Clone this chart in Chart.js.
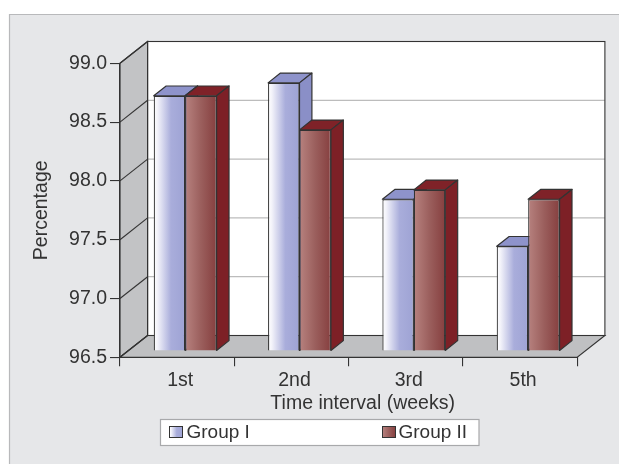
<!DOCTYPE html>
<html>
<head>
<meta charset="utf-8">
<script src="https://cdn.jsdelivr.net/npm/chart.js@4.4.0/dist/chart.umd.min.js"></script>
<style>
  html, body { margin: 0; padding: 0; background: #fff; }
  #wrap { width: 619px; height: 464px; }
</style>
</head>
<body>
<div id="wrap"><canvas id="chart"></canvas></div>
<script>
const weeks = ['1st', '2nd', '3rd', '5th'];
const groupI = [98.67, 98.78, 97.79, 97.39];
const groupII = [98.67, 98.38, 97.87, 97.79];
const seriesNames = ['Group I', 'Group II'];
const yMin = 96.5;
const yMax = 99.0;
const yStep = 0.5;

const FONT = "'Liberation Sans', Arial, sans-serif";
const INK = '#333333';
// Receding direction of the 3D box. Walls use the full depth; bars sit a
// little way into the box and take up under half of it.
const WALL = { dx: 27.6, dy: -21.8 };
const BAR_IN = 0.29;
const BAR_DEPTH = 0.45;
const CAT_PCT = 0.55;

const looks = [
    { stops: [[0, '#ffffff'], [0.12, '#f3f3fa'], [0.55, '#a9addb'], [1, '#9ea3d4']], top: '#8e93cb', side: '#8a8fc7' },
    { stops: [[0, '#b7827f'], [0.5, '#9b5f5d'], [1, '#863f3f']], top: '#7f2228', side: '#7d2026' },
];

// Horizontal shading across each bar's front face, built from the x scale.
function frontFill(c) {
    const look = looks[c.datasetIndex];
    const chart = c.chart;
    const x = chart.scales && chart.scales.x;
    if (!x || !chart.chartArea || c.dataIndex == null) return look.stops[2][1];
    const barW = (x.width / weeks.length) * CAT_PCT / 2;
    const mid = x.getPixelForValue(c.dataIndex);
    const left = c.datasetIndex === 0 ? mid - barW : mid;
    const g = chart.ctx.createLinearGradient(left, 0, left + barW, 0);
    look.stops.forEach(([p, col]) => g.addColorStop(p, col));
    return g;
}

function poly(ctx, pts, fill, stroke) {
    ctx.beginPath();
    pts.forEach(([px, py], i) => (i ? ctx.lineTo(px, py) : ctx.moveTo(px, py)));
    ctx.closePath();
    if (fill) { ctx.fillStyle = fill; ctx.fill(); }
    if (stroke) { ctx.strokeStyle = stroke; ctx.stroke(); }
}

// top and right-hand side of one bar, pushed back along the depth direction
function barFaces(ctx, bar, look) {
    const ddx = WALL.dx * BAR_DEPTH;
    const ddy = WALL.dy * BAR_DEPTH;
    const l = bar.x - bar.width / 2;
    const r = bar.x + bar.width / 2;
    const t = bar.y;
    const b = bar.base;
    ctx.lineWidth = 1.2;
    ctx.lineJoin = 'round';
    poly(ctx, [[l, t], [l + ddx, t + ddy], [r + ddx, t + ddy], [r, t]], look.top, INK);
    poly(ctx, [[r, t], [r + ddx, t + ddy], [r + ddx, b + ddy], [r, b]], look.side, INK);
}

function swatch(ctx, x0, y0, w, h, look) {
    const g = ctx.createLinearGradient(x0, 0, x0 + w, 0);
    look.stops.forEach(([p, col]) => g.addColorStop(p, col));
    ctx.fillStyle = g;
    ctx.fillRect(x0, y0, w, h);
    ctx.strokeStyle = INK;
    ctx.lineWidth = 1;
    ctx.strokeRect(x0, y0, w, h);
}

const box3d = {
    id: 'box3d',
    beforeDraw(chart) {
        const { ctx, chartArea: a, scales: { y } } = chart;
        const { dx, dy } = WALL;
        ctx.save();
        // grey panel behind the whole figure
        ctx.fillStyle = '#e6e7e9';
        ctx.fillRect(9, 14, chart.width - 9, chart.height - 14);
        ctx.strokeStyle = '#b8b9bb';
        ctx.lineWidth = 1.2;
        ctx.beginPath();
        ctx.moveTo(9.5, chart.height);
        ctx.lineTo(9.5, 14.5);
        ctx.lineTo(chart.width, 14.5);
        ctx.stroke();

        // back wall with light gridlines
        ctx.fillStyle = '#ffffff';
        ctx.fillRect(a.left + dx, a.top + dy, a.width, a.height);
        ctx.strokeStyle = '#bcbcbc';
        ctx.lineWidth = 1.2;
        y.ticks.forEach(t => {
            const py = y.getPixelForValue(t.value) + dy;
            ctx.beginPath();
            ctx.moveTo(a.left + dx, py);
            ctx.lineTo(a.right + dx, py);
            ctx.stroke();
        });

        ctx.lineWidth = 1.1;
        // left wall and floor
        poly(ctx, [[a.left, a.top], [a.left + dx, a.top + dy], [a.left + dx, a.bottom + dy], [a.left, a.bottom]], '#c2c3c5', INK);
        poly(ctx, [[a.left, a.bottom], [a.left + dx, a.bottom + dy], [a.right + dx, a.bottom + dy], [a.right, a.bottom]], '#bfc0c2', INK);
        // dark diagonals across the left wall, one per tick
        ctx.strokeStyle = INK;
        y.ticks.forEach(t => {
            const py = y.getPixelForValue(t.value);
            ctx.beginPath();
            ctx.moveTo(a.left, py);
            ctx.lineTo(a.left + dx, py + dy);
            ctx.stroke();
        });
        // back wall outline
        ctx.strokeRect(a.left + dx, a.top + dy, a.width, a.height);
        ctx.restore();
    },
    // Group I fronts are drawn by Chart.js (shifted into the box); Group II
    // is drawn below, bar by bar, so it can cover Group I's side faces.
    beforeDatasetDraw(chart, args) {
        if (args.index === 1) return false;
        chart.ctx.save();
        chart.ctx.translate(WALL.dx * BAR_IN, WALL.dy * BAR_IN);
    },
    afterDatasetDraw(chart) {
        chart.ctx.restore();
    },
    afterDatasetsDraw(chart) {
        const ctx = chart.ctx;
        const first = chart.getDatasetMeta(0).data;
        const second = chart.getDatasetMeta(1).data;
        ctx.save();
        ctx.translate(WALL.dx * BAR_IN, WALL.dy * BAR_IN);
        first.forEach((bar, i) => {
            barFaces(ctx, bar, looks[0]);
            second[i].draw(ctx);
            barFaces(ctx, second[i], looks[1]);
        });
        ctx.restore();
    },
    afterDraw(chart) {
        const { ctx, chartArea: a } = chart;
        ctx.save();
        ctx.fillStyle = INK;
        ctx.font = `19.5px ${FONT}`;
        ctx.textAlign = 'center';
        ctx.textBaseline = 'alphabetic';
        ctx.fillText('Time interval (weeks)', a.left + a.width / 2 + 14, 408.5);

        // legend strip
        ctx.fillStyle = '#ffffff';
        ctx.fillRect(160.5, 419.5, 318.5, 26);
        ctx.strokeStyle = '#a8a9ab';
        ctx.lineWidth = 1.2;
        ctx.strokeRect(160.5, 419.5, 318.5, 26);
        const items = [{ sx: 169.5, tx: 186.5 }, { sx: 382.5, tx: 398.5 }];
        ctx.font = `19px ${FONT}`;
        ctx.textAlign = 'left';
        items.forEach((it, i) => {
            swatch(ctx, it.sx, 426.5, 13, 11, looks[i]);
            ctx.fillStyle = INK;
            ctx.fillText(seriesNames[i], it.tx, 438);
        });
        ctx.restore();
    },
};

Chart.defaults.font.family = FONT;
Chart.defaults.font.size = 19.5;
Chart.defaults.color = INK;

const chart = new Chart(document.getElementById('chart'), {
    type: 'bar',
    data: {
        labels: weeks,
        datasets: [
            { label: seriesNames[0], data: groupI, base: yMin, backgroundColor: frontFill, borderColor: INK, borderWidth: 1.2 },
            { label: seriesNames[1], data: groupII, base: yMin, backgroundColor: frontFill, borderColor: INK, borderWidth: 1.2 },
        ],
    },
    options: {
        responsive: true,
        maintainAspectRatio: false,
        animation: false,
        events: [],
        datasets: { bar: { categoryPercentage: CAT_PCT, barPercentage: 1, clip: false } },
        layout: { padding: { top: 63.3, right: 41.7, left: 0, bottom: 0 } },
        plugins: { legend: { display: false }, tooltip: { enabled: false } },
        scales: {
            x: {
                offset: true,
                grid: { offset: true, drawOnChartArea: false, drawTicks: true, tickLength: 9, color: INK, lineWidth: 1.1 },
                border: { display: true, color: INK, width: 1.1 },
                ticks: { color: INK, padding: 3, labelOffset: 3, maxRotation: 0 },
                afterFit(scale) { scale.height = 106.7; },
            },
            y: {
                min: yMin,
                max: yMax,
                grid: { drawOnChartArea: false, drawTicks: true, tickLength: 10, color: INK, lineWidth: 1.1 },
                border: { display: true, color: INK, width: 1.1 },
                ticks: { stepSize: yStep, color: INK, padding: 3, callback: v => v.toFixed(1) },
                title: { display: true, text: 'Percentage', color: INK, font: { size: 19.5 }, padding: { top: 30, bottom: 0 } },
                afterFit(scale) { scale.width = 120; },
            },
        },
    },
    plugins: [box3d],
});
// second pass so the face gradients see the finished layout
chart.update();
</script>
</body>
</html>
